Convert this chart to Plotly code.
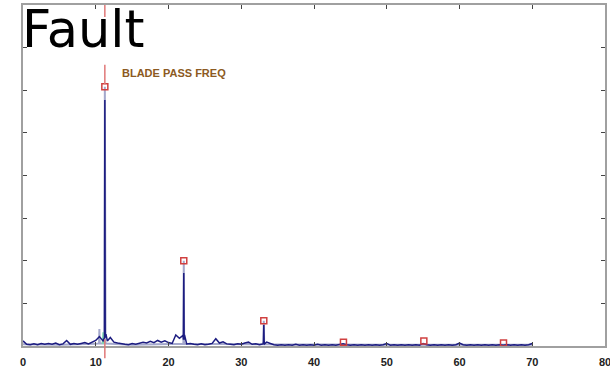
import plotly.graph_objects as go

# Current spectrum (navy)
cur_freq = [0.0, 0.5, 1.0, 1.5, 2.0, 2.5, 3.0, 3.5, 4.0, 4.5, 5.0, 5.5, 6.0, 6.5, 7.0, 7.5,
            8.0, 8.5, 9.0, 9.5, 10.0, 10.5, 11.0, 11.2, 11.25, 11.3, 11.4, 11.6, 12.0, 12.5, 13.0, 13.5,
            14.0, 14.5, 15.0, 15.5, 16.0, 16.5, 17.0, 17.5, 18.0, 18.5, 19.0, 19.5, 20.0,
            20.5, 21.0, 21.5, 22.0, 22.05, 22.1, 22.15, 22.2, 22.5, 23.0, 23.5, 24.0, 24.5, 25.0, 25.5,
            26.0, 26.5, 27.0, 27.5, 28.0, 28.5, 29.0, 29.5, 30.0, 30.5, 31.0, 31.5, 32.0,
            32.5, 33.0, 33.05, 33.1, 33.15, 33.2, 33.5, 34.0, 34.5, 35.0, 35.5, 36.0, 36.5, 37.0, 37.5,
            38.0, 38.5, 39.0, 39.5, 40.0, 40.5, 41.0, 41.5, 42.0, 42.5, 43.0, 43.5, 44.0,
            44.5, 45.0, 45.5, 46.0, 46.5, 47.0, 47.5, 48.0, 48.5, 49.0, 49.5, 50.0, 50.5,
            51.0, 51.5, 52.0, 52.5, 53.0, 53.5, 54.0, 54.5, 55.0, 55.5, 56.0, 56.5, 57.0,
            57.5, 58.0, 58.5, 59.0, 59.5, 60.0, 60.5, 61.0, 61.5, 62.0, 62.5, 63.0, 63.5,
            64.0, 64.5, 65.0, 65.5, 66.0, 66.5, 67.0, 67.5, 68.0, 68.5, 69.0, 69.5, 70.0]
cur_amp = [0.12, 0.04, 0.03, 0.05, 0.03, 0.06, 0.04, 0.06, 0.04, 0.07, 0.03, 0.05, 0.13, 0.04,
           0.06, 0.04, 0.06, 0.08, 0.05, 0.09, 0.13, 0.22, 0.12, 0.20, 5.77, 0.20, 0.28, 0.12,
           0.20, 0.09, 0.07, 0.05, 0.04, 0.03, 0.06, 0.04, 0.07, 0.09, 0.07, 0.11, 0.08, 0.13,
           0.09, 0.12, 0.08, 0.06, 0.26, 0.18, 0.25, 0.15, 1.71, 0.15, 0.26, 0.05, 0.06, 0.04,
           0.03, 0.05, 0.03, 0.04, 0.06, 0.17, 0.07, 0.10, 0.05, 0.04, 0.03, 0.05, 0.04, 0.07,
           0.09, 0.04, 0.05, 0.03, 0.05, 0.10, 0.49, 0.10, 0.05, 0.09, 0.06, 0.03, 0.02, 0.03,
           0.02, 0.03, 0.02, 0.04, 0.02, 0.03, 0.02, 0.03, 0.02, 0.04, 0.02, 0.03, 0.02, 0.03,
           0.02, 0.03, 0.05, 0.03, 0.02, 0.03, 0.02, 0.03, 0.02, 0.03, 0.02, 0.03, 0.02, 0.03,
           0.06, 0.02, 0.03, 0.02, 0.03, 0.02, 0.03, 0.02, 0.03, 0.02, 0.06, 0.03, 0.02, 0.03,
           0.02, 0.03, 0.02, 0.03, 0.02, 0.03, 0.07, 0.03, 0.02, 0.03, 0.02, 0.03, 0.02, 0.03,
           0.02, 0.03, 0.02, 0.03, 0.02, 0.03, 0.02, 0.03, 0.02, 0.03, 0.02, 0.03, 0.06]

# Reference spectrum (light)
ref_freq = [0.0, 5.0, 10.0, 10.45, 10.5, 10.55, 11.15, 11.2, 11.25, 11.3, 11.35, 15.0,
            22.0, 22.05, 22.1, 22.15, 22.2, 30.0, 33.0, 33.05, 33.1, 33.15, 33.2,
            40.0, 50.0, 60.0, 70.0]
ref_amp = [0.04, 0.03, 0.05, 0.06, 0.40, 0.06, 0.06, 0.10, 6.08, 0.10, 0.06, 0.03,
           0.05, 0.08, 2.00, 0.08, 0.05, 0.03, 0.04, 0.06, 0.59, 0.06, 0.04,
           0.03, 0.03, 0.03, 0.03]

# Small green component near the fundamental
grn_freq = [10.95, 11.05, 11.15]
grn_amp = [0.05, 0.32, 0.05]

# Harmonic markers (blade pass frequency and multiples)
harm_freq = [11.25, 22.1, 33.1, 44.05, 55.1, 66.05]
harm_amp = [6.08, 2.00, 0.59, 0.09, 0.12, 0.07]

cursor_freq = 11.25
x_ticks = [0, 10, 20, 30, 40, 50, 60, 70, 80]
y_ticks = [0, 1, 2, 3, 4, 5, 6, 7, 8]

fig = go.Figure()
fig.add_trace(go.Scatter(x=ref_freq, y=ref_amp, mode="lines",
                         line=dict(color="#a4a8cc", width=2), hoverinfo="skip"))
fig.add_trace(go.Scatter(x=grn_freq, y=grn_amp, mode="lines",
                         line=dict(color="#7fd6b2", width=2), hoverinfo="skip"))
fig.add_trace(go.Scatter(x=cur_freq, y=cur_amp, mode="lines",
                         line=dict(color="#1c1c80", width=1.5), hoverinfo="skip"))
fig.add_trace(go.Scatter(x=harm_freq, y=harm_amp, mode="markers",
                         marker=dict(symbol="square-open", size=6, color="#d04040",
                                     line=dict(width=1.5, color="#d04040")),
                         hoverinfo="skip"))

red = dict(color="#e07878", width=1.5)
fig.add_shape(type="line", xref="x", yref="y", x0=cursor_freq, x1=cursor_freq,
              y0=6.14, y1=6.6, line=red)
fig.add_shape(type="line", xref="x", yref="y", x0=cursor_freq, x1=cursor_freq,
              y0=7.72, y1=8.0, line=red)
fig.add_shape(type="line", xref="x", yref="paper", x0=cursor_freq, x1=cursor_freq,
              y0=0.02, y1=-0.036, line=red)

fig.add_annotation(text="BLADE PASS FREQ", xref="x", yref="y", x=13.3, y=6.41,
                   xanchor="left", yanchor="middle", showarrow=False,
                   font=dict(family="Liberation Sans", size=11, color="#8c5a22", weight="bold"))
fig.add_annotation(text="Fault", xref="paper", yref="paper", x=-0.006, y=0.928,
                   xanchor="left", yanchor="middle", showarrow=False,
                   font=dict(family="DejaVu Sans", size=51, color="#000000"))

fig.update_layout(
    width=610, height=374,
    margin=dict(l=23, r=5, t=5, b=28, autoexpand=False),
    paper_bgcolor="white", plot_bgcolor="white",
    showlegend=False,
)
fig.update_xaxes(range=[0, 80], tickvals=x_ticks, ticktext=[str(v) for v in x_ticks],
                 showgrid=False, zeroline=False, automargin=False,
                 ticklabeloverflow="allow", ticklabelstandoff=5,
                 showline=True, linecolor="#a0a0a0", linewidth=2, mirror="ticks",
                 ticks="inside", ticklen=4, tickcolor="#444", tickwidth=1,
                 tickfont=dict(family="Liberation Sans", size=11, color="#222", weight="bold"))
fig.update_yaxes(range=[0, 8], tickvals=y_ticks, showticklabels=False,
                 showgrid=False, zeroline=False, automargin=False,
                 showline=True, linecolor="#a0a0a0", linewidth=2, mirror="ticks",
                 ticks="inside", ticklen=4, tickcolor="#444", tickwidth=1)

fig.write_html("out.html", config={"displayModeBar": False},
               post_script="document.body.style.margin='0';document.body.style.overflow='hidden';")
